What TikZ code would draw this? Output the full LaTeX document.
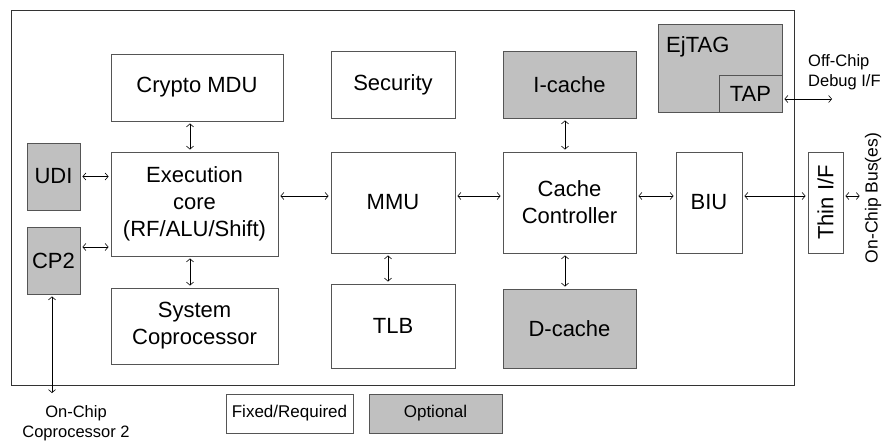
\documentclass[tikz,border=0pt]{standalone}
\usepackage{fontspec}
\setmainfont{Liberation Sans}
\usetikzlibrary{arrows.meta}
\definecolor{optgray}{RGB}{192,192,192}
\definecolor{linegray}{RGB}{85,85,85}

\begin{document}
\begin{tikzpicture}
[x=1pt,y=-1pt,%
  every node/.style={shape=rectangle,inner sep=0pt,align=center},%
  blk/.style={draw=linegray,line width=0.9pt,fill=white},%
  opt/.style={blk,fill=optgray},%
  link/.style={{Straight Barb[length=3pt,width=7pt]}-{Straight Barb[length=3pt,width=7pt]},%
    line width=0.6pt,shorten <=2pt,shorten >=2pt},%
  note/.style={font=\fontsize{16.5}{19.5}\selectfont},%
  key/.style={font=\fontsize{17}{20}\selectfont}]
\fontsize{22}{27}\selectfont
\useasboundingbox (0,0) rectangle (884,444);
\draw[black!80,line width=1pt] (11,11) rectangle (794,385);
\node[blk,minimum width=172pt,minimum height=67pt] (crypto) at (197,87.5) {Crypto MDU};
\node[blk,minimum width=124pt,minimum height=67pt] (security) at (393,84.5) {Security};
\node[opt,minimum width=133pt,minimum height=67pt] (icache) at (569.5,84.5) {I-cache};
\node[opt,minimum width=124pt,minimum height=88pt] (ejtag) at (720,68) {};
\node[anchor=west] (ejtaglbl) at (666,47) {EjTAG};
\node[opt,minimum width=63pt,minimum height=37pt] (tap) at (750.5,93.5) {TAP};
\node[opt,minimum width=53pt,minimum height=67pt] (udi) at (53.5,176.5) {UDI};
\node[opt,minimum width=53pt,minimum height=67pt] (cp2) at (53.5,260.5) {CP2};
\node[blk,minimum width=167pt,minimum height=104pt] (exec) at (194.5,204)
  {Execution\\core\\(RF/ALU/Shift)};
\node[blk,minimum width=124pt,minimum height=101pt] (mmu) at (393,202.5) {MMU};
\node[blk,minimum width=133pt,minimum height=101pt] (cachectl) at (569.5,202.5)
  {Cache\\Controller};
\node[blk,minimum width=66pt,minimum height=101pt] (biu) at (709,202.5) {BIU};
\node[blk,minimum width=35pt,minimum height=101pt] (thin) at (825.5,202.5)
  {\rotatebox{90}{Thin I/F}};
\node[blk,minimum width=167pt,minimum height=76pt] (syscop) at (194.5,326)
  {System\\Coprocessor};
\node[blk,minimum width=124pt,minimum height=84pt] (tlb) at (393,326) {TLB};
\node[opt,minimum width=133pt,minimum height=79pt] (dcache) at (569.5,328.5) {D-cache};
\node[note,anchor=west,align=left] (debug) at (808,72) {Off-Chip\\Debug I/F};
\node[note,font=\fontsize{17.5}{20}\selectfont,rotate=90] (bus) at (873,198) {On-Chip Bus(es)};
\node[note] (cop2) at (76,423) {On-Chip\\Coprocessor 2};
\node[blk,key,minimum width=127pt,minimum height=39pt] (fixed) at (289.5,413.5) {Fixed/Required};
\node[opt,key,minimum width=133pt,minimum height=39pt] (optional) at (435.5,413.5) {Optional};
\coordinate (dbgend) at (834,99);
\coordinate (cop2end) at (52,395);
\draw[link] ([xshift=-4.5pt]exec.north) -- ([xshift=-4.5pt]exec.north |- crypto.south);
\draw[link] ([xshift=-4.5pt]exec.south) -- ([xshift=-4.5pt]exec.south |- syscop.north);
\draw[link] (udi.east) -- (udi.east -| exec.west);
\draw[link] ([yshift=13.5pt]cp2.east) -- ([yshift=13.5pt]cp2.east -| exec.west);
\draw[link] ([yshift=8pt]exec.east) -- ([yshift=8pt]exec.east -| mmu.west);
\draw[link] ([xshift=-5pt]mmu.south) -- ([xshift=-5pt]mmu.south |- tlb.north);
\draw[link] ([yshift=6.5pt]mmu.east) -- ([yshift=6.5pt]mmu.east -| cachectl.west);
\draw[link] ([xshift=-4.5pt]cachectl.north) -- ([xshift=-4.5pt]cachectl.north |- icache.south);
\draw[link] ([xshift=-4.5pt]cachectl.south) -- ([xshift=-4.5pt]cachectl.south |- dcache.north);
\draw[link] ([yshift=6.5pt]cachectl.east) -- ([yshift=6.5pt]cachectl.east -| biu.west);
\draw[link] ([yshift=6.5pt]biu.east) -- ([yshift=6.5pt]biu.east -| thin.west);
\draw[link,shorten >=5pt] ([yshift=6.5pt]thin.east) -- ([yshift=6.5pt]thin.east -| bus.north);
\draw[link] ([yshift=-5.5pt]tap.east) -- (dbgend);
\draw[link] ([xshift=-1.5pt]cp2.south) -- (cop2end);
\end{tikzpicture}
\end{document}
